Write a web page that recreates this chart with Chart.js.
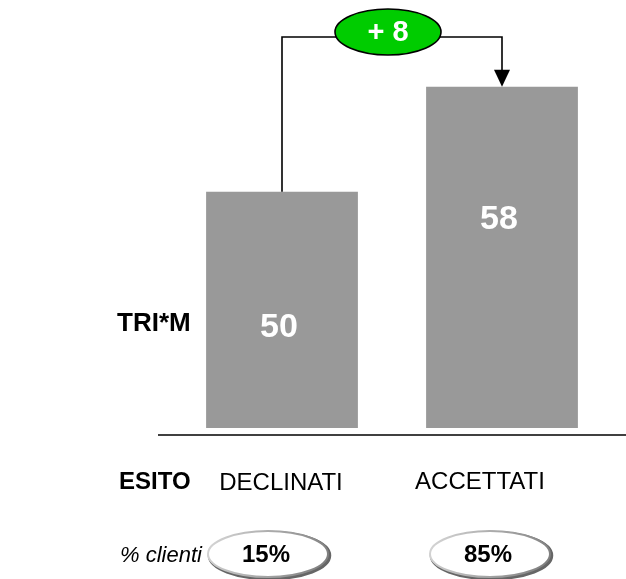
<!DOCTYPE html>
<html>
<head>
<meta charset="utf-8">
<script src="https://cdn.jsdelivr.net/npm/chart.js@4"></script>
<style>
  html, body { margin: 0; padding: 0; background: #fff; }
  #wrap { width: 626px; height: 579px; position: relative; }
</style>
</head>
<body>
<div id="wrap"><canvas id="chart" width="626" height="579"></canvas></div>
<script>
// TRI*M index by outcome
const categories = ['DECLINATI', 'ACCETTATI'];
const trimValues = [50, 58];
const clientShares = ['15%', '85%'];
const rowLabels = { index: 'TRI*M', outcome: 'ESITO', share: '% clienti' };

const FONT = '"Liberation Sans", Arial, sans-serif';

function ellipsePath(ctx, cx, cy, rx, ry) {
    ctx.beginPath();
    ctx.ellipse(cx, cy, rx, ry, 0, 0, Math.PI * 2);
}

// draws everything that isn't a bar: value labels, delta connector, row labels, share ovals
const overlay = {
    id: 'overlay',
    afterDatasetsDraw(chart) {
        const ctx = chart.ctx;
        const x = chart.scales.x;
        const y = chart.scales.y;
        const base = chart.chartArea.bottom;
        ctx.save();

        // values inside bars
        ctx.fillStyle = '#fff';
        ctx.font = 'bold 34px ' + FONT;
        ctx.textAlign = 'center';
        ctx.textBaseline = 'middle';
        ctx.fillText(String(trimValues[0]), x.getPixelForValue(0) - 3, 328);
        ctx.fillText(String(trimValues[1]), x.getPixelForValue(1) - 3, 220);

        // connector from first bar to second bar
        const x0 = x.getPixelForValue(0);
        const x1 = x.getPixelForValue(1);
        const top0 = y.getPixelForValue(trimValues[0]);
        const top1 = y.getPixelForValue(trimValues[1]);
        const lineY = 37;
        const ovalX = (x0 + x1) / 2 - 4;
        ctx.strokeStyle = '#000';
        ctx.lineWidth = 1.6;
        ctx.beginPath();
        ctx.moveTo(x0, top0);
        ctx.lineTo(x0, lineY);
        ctx.lineTo(x1, lineY);
        ctx.lineTo(x1, top1 - 16);
        ctx.stroke();
        ctx.fillStyle = '#000';
        ctx.beginPath();
        ctx.moveTo(x1 - 8, top1 - 17);
        ctx.lineTo(x1 + 8, top1 - 17);
        ctx.lineTo(x1, top1);
        ctx.closePath();
        ctx.fill();

        // delta oval
        ellipsePath(ctx, ovalX, 32, 53, 23);
        ctx.fillStyle = '#00cc00';
        ctx.fill();
        ctx.lineWidth = 1.6;
        ctx.strokeStyle = '#000';
        ctx.stroke();
        const diff = trimValues[1] - trimValues[0];
        ctx.fillStyle = '#fff';
        ctx.font = 'bold 29px ' + FONT;
        ctx.fillText((diff >= 0 ? '+ ' : '- ') + Math.abs(diff), ovalX, 33);

        // baseline rule
        ctx.strokeStyle = '#000';
        ctx.lineWidth = 1.5;
        ctx.beginPath();
        ctx.moveTo(158, base + 7);
        ctx.lineTo(626, base + 7);
        ctx.stroke();

        // row labels
        ctx.fillStyle = '#000';
        ctx.textAlign = 'left';
        ctx.font = 'bold 26px ' + FONT;
        ctx.fillText(rowLabels.index, 117, 324);
        ctx.font = 'bold 24px ' + FONT;
        ctx.fillText(rowLabels.outcome, 119, 482);
        ctx.font = 'italic 22px ' + FONT;
        ctx.fillText(rowLabels.share, 120, 556);

        // category names
        ctx.textAlign = 'center';
        ctx.font = '24px ' + FONT;
        ctx.fillText(categories[0], x.getPixelForValue(0) - 1, 483);
        ctx.fillText(categories[1], x.getPixelForValue(1) - 22, 482);

        // share ovals with bevelled rim
        clientShares.forEach((s, i) => {
            const cx = i === 0 ? 268 : 490;
            const cy = 554;
            const rx = 60, ry = 23;
            ellipsePath(ctx, cx + 1.5, cy + 1.5, rx, ry);
            ctx.lineWidth = 3.5;
            ctx.strokeStyle = '#666';
            ctx.stroke();
            ellipsePath(ctx, cx, cy, rx, ry);
            ctx.fillStyle = '#fff';
            ctx.fill();
            const g = ctx.createLinearGradient(cx - rx, cy - ry, cx + rx, cy + ry);
            g.addColorStop(0, '#d8d8d8');
            g.addColorStop(0.5, '#a8a8a8');
            g.addColorStop(1, '#7a7a7a');
            ctx.lineWidth = 2;
            ctx.strokeStyle = g;
            ctx.stroke();
            ctx.fillStyle = '#000';
            ctx.font = 'bold 24px ' + FONT;
            ctx.fillText(s, cx - 2, cy + 1);
        });

        ctx.restore();
    }
};

new Chart(document.getElementById('chart'), {
    type: 'bar',
    data: {
        labels: categories,
        datasets: [{
            data: trimValues,
            backgroundColor: '#999999',
            borderWidth: 0,
            barPercentage: 1,
            categoryPercentage: 0.69
        }]
    },
    options: {
        responsive: false,
        animation: false,
        layout: { padding: { left: 172, right: 14, top: 8, bottom: 151 } },
        plugins: { legend: { display: false }, tooltip: { enabled: false } },
        scales: {
            x: { display: false },
            y: { display: false, min: 32, max: 64 }
        }
    },
    plugins: [overlay]
});
</script>
</body>
</html>
